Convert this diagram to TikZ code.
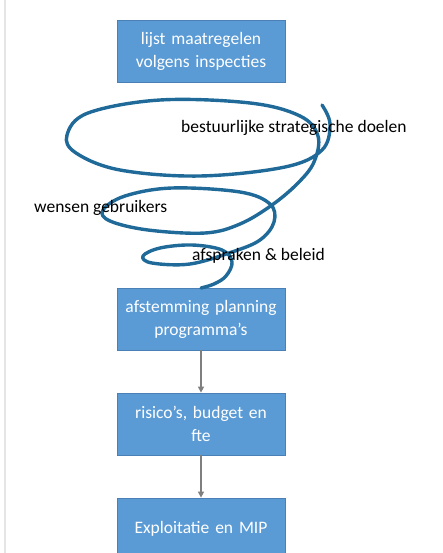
\documentclass[tikz,border=0pt]{standalone}
\usepackage{fontspec}
\setmainfont{Carlito}
\usetikzlibrary{arrows.meta}

\definecolor{boxblue}{HTML}{5B9BD5}
\definecolor{boxline}{HTML}{4A80B5}
\definecolor{curlblue}{HTML}{1F6A98}
\definecolor{flowgray}{HTML}{7F7F7F}

\begin{document}
\begin{tikzpicture}[x=1pt,y=-1pt,
    stap/.style={rectangle, draw=boxline, fill=boxblue, line width=0.8pt,
        minimum width=168pt, minimum height=62pt, text width=160pt,
        align=center, text=white, font=\fontsize{17.5}{23}\selectfont},
    lbl/.style={anchor=west, inner sep=0pt, font=\fontsize{17.5}{21}\selectfont},
    curl/.style={draw=curlblue, line width=3.4pt, line cap=round, line join=round},
    flow/.style={draw=flowgray, line width=1.4pt, -{Triangle[length=6pt,width=6pt]}}]

        \useasboundingbox (0,0) rectangle (442,553);
        \clip (0,0) rectangle (442,553);
        \fill[white] (0,0) rectangle (442,553);
        \draw[gray!20, line width=1.2pt] (5,0) -- (5,553);

        % de vier stappen
        \node[stap] (b1) at (201,51) {lijst maatregelen\\volgens inspecties};
        \node[stap] (b2) at (201,319) {afstemming planning\\programma’s};
        \node[stap] (b3) at (201,424) {risico’s, budget en\\fte};
        \node[stap] (b4) at (201,529) {Exploitatie en MIP};

        \draw[flow] (b2) -- (b3);
        \draw[flow] (b3) -- (b4);

        % de krul
        \draw[curl] plot[smooth, tension=0.6] coordinates {
            (322,105) (330,124) (322,150) (285,167) (200,176) (120,170)
            (76,153) (67,135) (88,113) (160,100) (250,103) (300,116)
            (318,136) (314,162) (298,183) (272,205) (240,224) (205,233)
            (148,230) (110,221) (103,210) (125,196) (172,188) (240,192)
            (270,204) (274,222) (260,240) (232,252) (190,264) (152,263)
            (143,256) (160,248) (192,245) (222,250) (232,262) (226,276)
            (214,284) (201,288)};
        \coordinate (curlend) at (201,288);

        \node[lbl] (doel) at (181,128) {bestuurlijke strategische doelen};
        \node[lbl] (wens) at (34,208) {wensen gebruikers};
        \node[lbl] (afspr) at (192,256) {afspraken \& beleid};

\end{tikzpicture}
\end{document}
